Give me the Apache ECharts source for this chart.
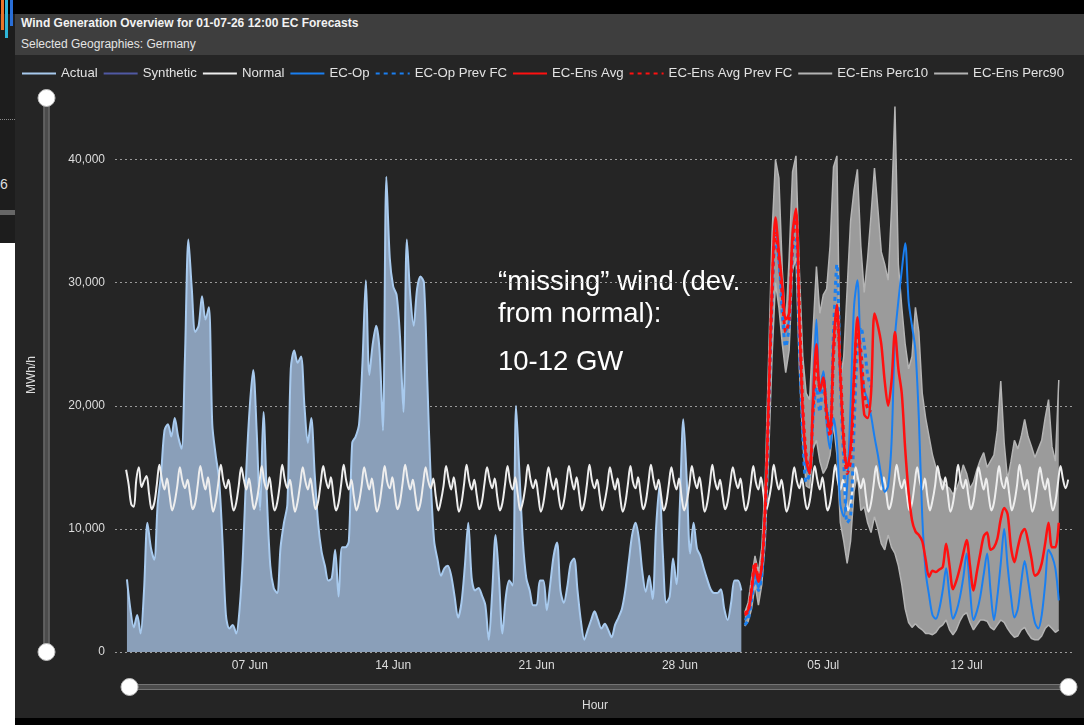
<!DOCTYPE html>
<html>
<head>
<meta charset="utf-8">
<script src="https://cdn.jsdelivr.net/npm/echarts@6/dist/echarts.min.js"></script>
<style>
  html, body { margin: 0; padding: 0; background: #000; width: 1084px; height: 725px; overflow: hidden; }
  body { font-family: "Liberation Sans", Arial, sans-serif; }
  #side { position: absolute; left: 0; top: 14px; width: 15px; height: 229px; background: #1d1d1d; }
  #sideWhite { position: absolute; left: 0; top: 243px; width: 15px; height: 482px; background: #fff; }
  #sideDots { position: absolute; left: 0; top: 119px; width: 15px; border-top: 1px dotted #888; }
  #sideBar { position: absolute; left: 0; top: 210px; width: 15px; height: 5px; background: #666; }
  #sideSix { position: absolute; left: 0; top: 176px; color: #ddd; font-size: 14px; }
  .streak { position: absolute; top: 0; width: 3px; }
  #panel { position: absolute; left: 15px; top: 14px; width: 1069px; height: 704px; background: #252525; }
  #head { position: absolute; left: 15px; top: 14px; width: 1069px; height: 41px; background: #3e3e3e; }
  #t1 { position: absolute; left: 6px; top: 2px; color: #f2f2f2; font-size: 12px; font-weight: bold; }
  #t2 { position: absolute; left: 6px; top: 23px; color: #e4e4e4; font-size: 12px; }
  #chart { position: absolute; left: 0; top: 0; width: 1084px; height: 725px; }
</style>
</head>
<body>
<div id="side"></div>
<div id="sideWhite"></div>
<div id="sideDots"></div>
<div id="sideBar"></div>
<div id="sideSix">6</div>
<div class="streak" style="left:1px;height:30px;background:#e8742a"></div>
<div class="streak" style="left:5px;height:38px;background:#2fb6d8"></div>
<div class="streak" style="left:10px;height:26px;background:#2a6fd8"></div>
<div id="panel"></div>
<div id="head">
  <div id="t1">Wind Generation Overview for 01-07-26 12:00 EC Forecasts</div>
  <div id="t2">Selected Geographies: Germany</div>
</div>
<div id="chart"></div>
<script>
// hours counted from 01 Jun 00:00
const xTickHours = [144, 312, 480, 648, 816, 984];
const xTickLabels = ["07 Jun", "14 Jun", "21 Jun", "28 Jun", "05 Jul", "12 Jul"];

// Actual, every 4 h from hour 0
const actualStart = 0, actualStep = 4;
const actual = [
  5900, 3500, 2000, 3000, 1500, 5000, 10500, 8500, 7500, 12000,
  14500, 18000, 18500, 17500, 19000, 17500, 16500, 24000, 33500, 29500,
  26000, 26500, 28900, 27000, 28000, 18500, 16000, 14000, 9000, 3000,
  1900, 2200, 1500, 3500, 8000, 15000, 20000, 22900, 18000, 11500,
  19500, 12500, 7000, 5200, 4800, 8500, 10500, 12000, 23000, 24500,
  23500, 24000, 20000, 17000, 19000, 14500, 10500, 8200, 7000, 5800,
  6000, 8300, 4500, 8500, 8500, 9000, 17000, 17500, 18500, 23500,
  30200, 22500, 25000, 26500, 24500, 18000, 38600, 32000, 29700, 29000,
  25600, 19500, 33500, 29000, 26500, 29500, 30500, 30000, 22000, 14000,
  9000, 7500, 6200, 6800, 7000, 6200, 4500, 2800, 4000, 7000,
  10500, 6000, 5000, 5200, 4600, 3800, 1000, 4800, 9500, 6000,
  1500, 4500, 5800, 5400, 20000, 14500, 9000, 6000, 5000, 3800,
  3800, 5800, 5800, 3400, 5500, 7800, 8900, 5000, 4000, 5300,
  7200, 7600, 5000, 2500, 1000, 1800, 2600, 3300, 2600, 1900,
  2300, 1800, 1200, 2200, 2800, 3500, 5000, 7300, 9500, 10500,
  9200, 6500, 4900, 6200, 4300, 10000, 13500, 8000, 4000, 4500,
  7600, 5500, 12000, 18900, 14000, 8000, 10500, 8400, 7800, 6800,
  5900, 5100, 4800, 4800, 5100, 3500, 2600, 4000, 5800, 5800, 5000
];

// Normal, every 3 h from hour -1
const normalStart = -1, normalStep = 3;
const normal = [
  14800, 13600, 12000, 11800, 14000, 15000, 13400, 13900,
  14300, 12800, 11600, 12100, 13600, 15200, 14000, 13200,
  14100, 12700, 11500, 12200, 13500, 15000, 13900, 13300,
  14000, 12800, 11600, 12100, 13600, 15100, 14000, 13200,
  14200, 12700, 11400, 12200, 13700, 15200, 13900, 13300,
  14000, 12600, 11500, 12100, 13500, 15000, 14000, 13200,
  14100, 12800, 11600, 12300, 13600, 15100, 13800, 13200,
  14200, 12700, 11500, 12100, 13500, 15200, 14000, 13300,
  14000, 12600, 11400, 12200, 13600, 15000, 13900, 13200,
  14100, 12800, 11600, 12200, 13700, 15100, 14000, 13300,
  14200, 12700, 11500, 12100, 13600, 15200, 13900, 13200,
  14000, 12600, 11500, 12200, 13500, 15000, 14000, 13200,
  14100, 12700, 11400, 12100, 13600, 15100, 13800, 13300,
  14200, 12800, 11600, 12200, 13700, 15200, 14000, 13200,
  14000, 12700, 11500, 12100, 13600, 15000, 13900, 13300,
  14100, 12600, 11500, 12300, 13500, 15100, 14000, 13200,
  14200, 12800, 11400, 12100, 13600, 15200, 13900, 13200,
  14000, 12700, 11600, 12200, 13700, 15000, 14000, 13300,
  14100, 12600, 11500, 12100, 13600, 15100, 13800, 13200,
  14200, 12800, 11500, 12200, 13500, 15200, 14000, 13300,
  14000, 12700, 11400, 12100, 13600, 15000, 13900, 13200,
  14100, 12600, 11600, 12200, 13700, 15100, 14000, 13200,
  14200, 12800, 11500, 12100, 13600, 15200, 13900, 13300,
  14000, 12700, 11500, 12300, 13500, 15000, 14000, 13200,
  14100, 12600, 11400, 12100, 13600, 15100, 13800, 13300,
  14200, 12800, 11600, 12200, 13700, 15200, 14000, 13200,
  14000, 12700, 11500, 12100, 13600, 15000, 13900, 13200,
  14100, 12600, 11500, 12200, 13500, 15100, 14000, 13300,
  14200, 12800, 11400, 12100, 13600, 15200, 13900, 13200,
  14000, 12700, 11600, 12200, 13700, 15000, 14000, 13300,
  14100, 12600, 11500, 12100, 13600, 15100, 13800, 13200,
  14200, 12800, 11500, 12300, 13500, 15200, 14000, 13200,
  14000, 12700, 11400, 12100, 13600, 15000, 13900, 13300,
  14100, 12600, 11600, 12200, 13700, 15100, 14000, 13200,
  14200, 12800, 11500, 12100, 13600, 15200, 13900, 13200,
  14000, 12700, 11500, 12200, 13500, 15000, 14000, 13300,
  14100, 12600, 11400, 12100, 13600, 15100, 13800, 13200,
  14200, 12800, 11600, 12200, 13700, 15200, 14000, 13300,
  14000, 12700, 11500, 12100, 13600, 15000, 13900, 13200,
  14100, 12600, 11500, 12300, 13500, 15100, 14000, 13200,
  14200, 12800, 11400, 12100, 13600, 15200, 13900, 13300,
  14000, 12700, 11600, 12200, 13700, 15000, 14000, 13200,
  14100, 12600, 11500, 12100, 13600, 15100, 13800, 13300,
  14200, 12800, 11500, 12200, 13500, 15200, 14000, 13200,
  14000, 12700, 11400, 12100, 13600, 15000, 13900, 13200,
  14100, 12600, 11500, 12200, 13700, 15100, 14000, 13300,
  14000
];

// forecasts, every 4 h from 01 Jul 04:00
const fcStart = 724, fcStep = 4;
const ecOp = [
  2600, 3000, 4500, 6500, 5200, 6500, 11500, 20000, 29500, 34500,
  31500, 28500, 26000, 27000, 33500, 35500, 26500, 19000, 15000, 14500,
  21000, 27000, 21000, 22800, 18500, 16500, 19000, 17000, 12000, 11000,
  13500, 20000, 28000, 30200, 24000, 21300, 20500, 19200, 17500, 16000,
  14300, 13000, 13500, 17000, 25500, 28500, 31000, 33200, 28500, 26500,
  24500, 19000, 11000, 6500, 4600, 3000, 2700, 3500, 5000, 6800,
  4500, 2700, 3300, 4400, 6000, 8000, 5000, 2600, 3300, 4500,
  6300, 8000, 5000, 2600, 4500, 7200, 10000, 7000, 4500, 2800,
  3500, 5700, 7400, 5800, 3900, 2400, 1900, 3000, 5500, 8300,
  7800, 6800, 4200
];
const ecOpPrev = [
  2200, 2600, 4200, 6200, 5000, 6300, 11000, 19500, 28500, 33500,
  32000, 27500, 24800, 26500, 32500, 33500, 25000, 17500, 13800, 14500,
  19000, 21500, 19500, 22500, 19800, 18500, 26000, 31500, 22000, 15500,
  10500, 11000, 18000, 24500, 26400, 25000, 22500, 21500
];
const ensAvg = [
  3200, 3400, 5000, 7000, 5700, 7000, 12000, 20500, 30000, 35300,
  32500, 29800, 27000, 27500, 34000, 36000, 27000, 19500, 15600, 14500,
  20500, 25000, 21200, 22300, 19500, 18000, 25000, 28200, 22500, 17000,
  15000, 16500, 22500, 27200, 23000, 19300, 19000, 21000, 27500, 26500,
  25000, 22000, 20000, 22000, 26000, 23000, 21000, 16500, 13000, 10700,
  9800, 9500, 9000, 7500, 6100, 6600, 6500, 6700, 6900, 8800,
  7000, 5100, 5800, 6800, 8000, 9100, 7000, 5000, 6500, 8000,
  9400, 9700, 8300, 8500, 9200, 10800, 11700, 11200, 8500, 7300,
  8500, 9600, 10000, 9000, 7600, 6200, 6400, 7200, 8800, 10500,
  8500, 8500, 10500
];
const ensAvgPrev = [
  3000, 3300, 5200, 7300, 6000, 7000, 11500, 20000, 29000, 34000,
  32000, 29000, 26000, 27000, 33000, 35500, 28000, 20000, 16000, 14600,
  19500, 23500, 21500, 21800, 19000, 17500, 24000, 27800, 23000, 17500,
  14500, 15500, 21500, 26000, 24500, 21000, 19800, 19500
];
const ensP10 = [
  2100, 2500, 3500, 5500, 3800, 5500, 9000, 16000, 24000, 30000,
  28000, 25000, 22700, 24500, 31000, 32000, 23000, 17000, 13500, 13300,
  16500, 17200, 15500, 14500, 15000, 16000, 18500, 16000, 10500, 9000,
  7200, 9000, 13000, 14500, 11500, 11800, 10500, 9700, 11000, 10000,
  8800, 8300, 9500, 8500, 8000, 7000, 5500, 3500, 2400, 2000,
  2300, 2000, 1800, 1500, 1500, 1400, 1600, 2000, 2200, 2600,
  1800, 1400, 1800, 2500, 3000, 3200, 2400, 1800, 2200, 2600,
  2600, 2500, 2000, 1800, 2200, 2600, 2400, 1900, 1500, 1200,
  1300, 1800, 2000, 1500, 1100, 1000, 1000, 1300, 1900, 2200,
  1900, 1600, 1800
];
const ensP90 = [
  3200, 4000, 6000, 7800, 6500, 8500, 14000, 24000, 34000, 40000,
  38500, 31000, 26500, 32000, 39000, 40300, 31000, 24000, 21000, 20500,
  26000, 31300, 27500, 29000, 29500, 33000, 39400, 40300, 22000, 24000,
  29500, 35000, 37500, 39200, 33000, 29200, 32000, 35500, 39300, 36000,
  32500, 31500, 30200, 36000, 44300, 31500, 28000, 25000, 23000, 24000,
  28000, 26000, 21000, 19000, 17500, 16000, 15000, 14300, 13800, 13500,
  13300, 12800, 13200, 14000, 15200, 14500, 13300, 13800, 14800, 15600,
  16200, 15000, 15500, 16000, 18000, 22000, 17000, 14000, 15500, 17200,
  16500, 17500, 18900, 17500, 16700, 15800, 16500, 17200, 19000, 20500,
  16700, 15500, 22100
];

function pairs(start, step, vals) {
  return vals.map((v, i) => [start + step * i, v]);
}
function comma(v) {
  return String(v).replace(/\B(?=(\d{3})+(?!\d))/g, ",");
}

const txt = "#dcdcdc";
const font = "Liberation Sans";
const bandData = ensP10.map((v, i) => [fcStart + fcStep * i, v, ensP90[i]]);

let myChart = echarts.init(document.getElementById("chart"));
myChart.setOption({
  animation: false,
  textStyle: { fontFamily: font },
  legend: {
    left: 16,
    top: 62,
    itemWidth: 34,
    itemHeight: 12,
    itemGap: 5,
    itemStyle: { opacity: 0, borderWidth: 0 },
    textStyle: { color: "#e2e2e2", fontSize: 13.2, fontFamily: font },
    data: ["Actual", "Synthetic", "Normal", "EC-Op", "EC-Op Prev FC",
           "EC-Ens Avg", "EC-Ens Avg Prev FC", "EC-Ens Perc10", "EC-Ens Perc90"]
  },
  grid: { left: 115, right: 9, top: 98, bottom: 73 },
  xAxis: {
    type: "value",
    min: -14,
    max: 1111,
    name: "Hour",
    nameLocation: "middle",
    nameGap: 48,
    nameTextStyle: { color: txt, fontSize: 12 },
    axisLine: { show: false },
    axisTick: { show: false },
    splitLine: { show: false },
    axisLabel: {
      customValues: xTickHours,
      formatter: v => xTickLabels[xTickHours.indexOf(v)] || "",
      color: txt,
      fontSize: 12,
      margin: 8
    }
  },
  yAxis: {
    type: "value",
    min: 0,
    max: 45000,
    interval: 10000,
    name: "MWh/h",
    nameLocation: "middle",
    nameGap: 77,
    nameTextStyle: { color: txt, fontSize: 12 },
    axisLine: { show: false },
    axisTick: { show: false },
    axisLabel: { color: txt, fontSize: 12, margin: 10, showMaxLabel: false, formatter: v => comma(v) },
    splitLine: { showMaxLine: false, lineStyle: { color: "#9a9a9a", type: [2, 3], width: 1 } }
  },
  dataZoom: [
    {
      type: "slider", xAxisIndex: 0, filterMode: "none",
      left: 127, right: 16, top: 684, height: 6,
      showDetail: false, showDataShadow: false, brushSelect: false, moveHandleSize: 0,
      backgroundColor: "#4c4c4c", borderColor: "#747474", fillerColor: "#4c4c4c",
      handleIcon: "circle", handleSize: 17,
      handleStyle: { color: "#ffffff", borderColor: "#bbbbbb", borderWidth: 1 }
    },
    {
      type: "slider", yAxisIndex: 0, orient: "vertical", filterMode: "none",
      left: 43, width: 6, top: 97, height: 556,
      showDetail: false, showDataShadow: false, brushSelect: false, moveHandleSize: 0,
      backgroundColor: "#4c4c4c", borderColor: "#747474", fillerColor: "#4c4c4c",
      handleIcon: "circle", handleSize: 17,
      handleStyle: { color: "#ffffff", borderColor: "#bbbbbb", borderWidth: 1 }
    }
  ],
  graphic: [
    { type: "text", x: 498, y: 268, style: { text: "\u201cmissing\u201d wind (dev.", fill: "#ffffff", font: "27.5px 'Liberation Sans'" } },
    { type: "text", x: 498, y: 300, style: { text: "from normal):", fill: "#ffffff", font: "27.5px 'Liberation Sans'" } },
    { type: "text", x: 498, y: 348, style: { text: "10-12 GW", fill: "#ffffff", font: "27.5px 'Liberation Sans'" } }
  ],
  series: [
    {
      name: "Actual", type: "line", z: 1, symbol: "none", smooth: 0.3,
      data: pairs(actualStart, actualStep, actual),
      color: "#a8caee",
      lineStyle: { color: "#a8caee", width: 2 },
      areaStyle: { color: "#8a9fb9", opacity: 1 }
    },
    {
      name: "Synthetic", type: "line", symbol: "none", data: [],
      color: "#5059a3", lineStyle: { color: "#5059a3", width: 2 }
    },
    {
      // shaded range between the 10th and 90th percentile
      name: "ensBand", type: "custom", z: 2, silent: true,
      data: bandData,
      encode: { x: 0, y: [1, 2] },
      renderItem: (params, api) => {
        if (params.dataIndex !== 0) return null;
        const pts = [];
        for (let i = 0; i < bandData.length; i++) pts.push(api.coord([bandData[i][0], bandData[i][2]]));
        for (let i = bandData.length - 1; i >= 0; i--) pts.push(api.coord([bandData[i][0], bandData[i][1]]));
        return { type: "polygon", shape: { points: pts }, style: { fill: "#9b9b9b" } };
      }
    },
    {
      name: "EC-Ens Perc10", type: "line", z: 2, symbol: "none",
      data: pairs(fcStart, fcStep, ensP10),
      color: "#b4b4b4", lineStyle: { color: "#b4b4b4", width: 1.5 }
    },
    {
      name: "EC-Ens Perc90", type: "line", z: 2, symbol: "none",
      data: pairs(fcStart, fcStep, ensP90),
      color: "#b4b4b4", lineStyle: { color: "#b4b4b4", width: 1.5 }
    },
    {
      name: "Normal", type: "line", z: 3, symbol: "none", smooth: 0.35,
      data: pairs(normalStart, normalStep, normal),
      color: "#eeeeee", lineStyle: { color: "#eeeeee", width: 2 }
    },
    {
      name: "EC-Op", type: "line", z: 4, symbol: "none", smooth: 0.3,
      data: pairs(fcStart, fcStep, ecOp),
      color: "#1a7ff0", lineStyle: { color: "#1a7ff0", width: 2 }
    },
    {
      name: "EC-Op Prev FC", type: "line", z: 4, symbol: "none", smooth: 0.3,
      data: pairs(fcStart, fcStep, ecOpPrev),
      color: "#1a7ff0", lineStyle: { color: "#1a7ff0", width: 3, type: [4, 4] }
    },
    {
      name: "EC-Ens Avg", type: "line", z: 4, symbol: "none", smooth: 0.3,
      data: pairs(fcStart, fcStep, ensAvg),
      color: "#ff1010", lineStyle: { color: "#ff1010", width: 2.5 }
    },
    {
      name: "EC-Ens Avg Prev FC", type: "line", z: 4, symbol: "none", smooth: 0.3,
      data: pairs(fcStart, fcStep, ensAvgPrev),
      color: "#ff1010", lineStyle: { color: "#ff1010", width: 3, type: [4, 4] }
    }
  ]
});
</script>
</body>
</html>
